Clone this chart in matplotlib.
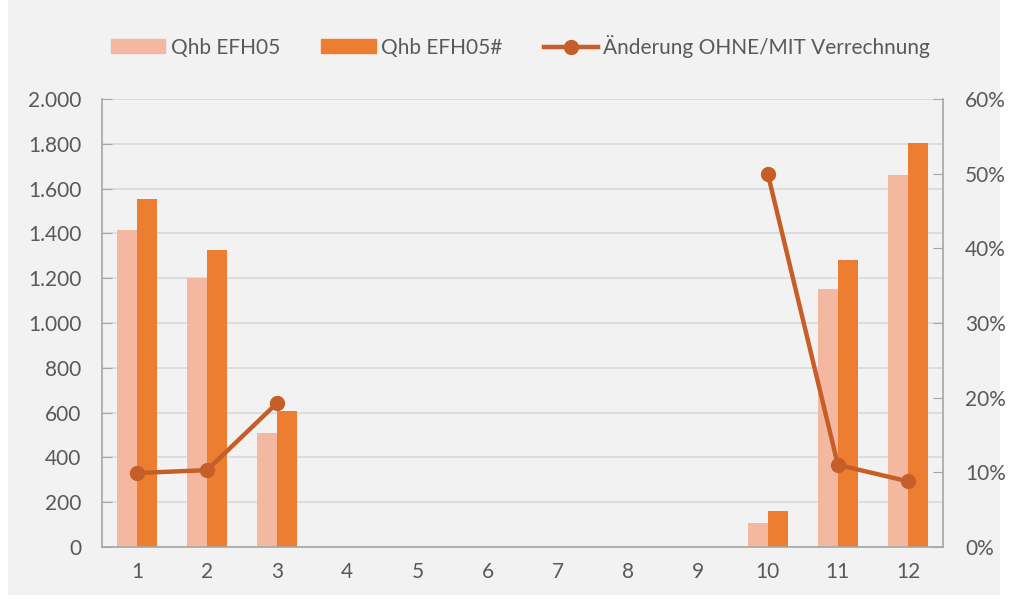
import matplotlib.pyplot as plt
import numpy as np
from matplotlib.patches import Rectangle
from matplotlib.lines import Line2D
from matplotlib.ticker import FuncFormatter, MultipleLocator

months = list(range(1, 13))
qhb = [1415, 1200, 510, 0, 0, 0, 0, 0, 0, 105, 1150, 1660]
qhb_hash = [1555, 1325, 605, 0, 0, 0, 0, 0, 0, 160, 1280, 1805]
change = [0.099, 0.103, 0.193, np.nan, np.nan, np.nan, np.nan, np.nan, np.nan,
          0.500, 0.110, 0.088]

light = '#F4B8A1'
dark = '#ED7D31'
line_c = '#C65F27'
text_c = '#595959'
grid_c = '#D9D9D9'
axis_c = '#A6A6A6'

plt.rcParams['font.family'] = ['Lato', 'DejaVu Sans']

fig = plt.figure(figsize=(10.09, 6.0), dpi=100)
fig.patches.append(Rectangle((8 / 1009, 5 / 600), 992 / 1009, 595 / 600,
                             transform=fig.transFigure, facecolor='#F2F2F2',
                             edgecolor='none', zorder=-10))

ax = fig.add_axes([102 / 1009, 53 / 600, 841 / 1009, 448 / 600])
ax.set_facecolor('none')
x = np.arange(len(months))
w = 0.286
ax.bar(x - w / 2, qhb, w, color=light, label='Qhb EFH05', zorder=2)
ax.bar(x + w / 2, qhb_hash, w, color=dark, label='Qhb EFH05#', zorder=2)

ax.set_xlim(-0.5, 11.5)
ax.set_ylim(0, 2000)
ax.yaxis.set_major_locator(MultipleLocator(200))
ax.yaxis.set_major_formatter(FuncFormatter(lambda v, p: f'{int(v):,}'.replace(',', '.')))
ax.set_xticks(x)
ax.set_xticklabels([str(m) for m in months])
ax.grid(axis='y', color=grid_c, linewidth=1.2, zorder=0)
ax.set_axisbelow(True)
for s in ['top', 'right']:
    ax.spines[s].set_visible(False)
for s in ['left', 'bottom']:
    ax.spines[s].set_color(axis_c)
    ax.spines[s].set_linewidth(1.2)
ax.tick_params(axis='y', direction='in', length=7, color=axis_c, labelsize=15,
               labelcolor=text_c, pad=15)
ax.tick_params(axis='x', length=0, labelsize=15, labelcolor=text_c, pad=11)

ax2 = ax.twinx()
ax2.plot(x, change, color=line_c, linewidth=3.2, marker='o', markersize=10,
         label='Änderung OHNE/MIT Verrechnung', zorder=5)
ax2.set_ylim(0, 0.6)
ax2.yaxis.set_major_locator(MultipleLocator(0.1))
ax2.yaxis.set_major_formatter(FuncFormatter(lambda v, p: f'{v * 100:.0f}%'))
for s in ['top', 'left', 'bottom']:
    ax2.spines[s].set_visible(False)
ax2.spines['right'].set_color(axis_c)
ax2.spines['right'].set_linewidth(1.2)
ax2.tick_params(axis='y', direction='in', length=7, color=axis_c, labelsize=15,
                labelcolor=text_c, pad=16)

handles = [Rectangle((0, 0), 1, 1, color=light),
           Rectangle((0, 0), 1, 1, color=dark),
           Line2D([], [], color=line_c, linewidth=3.2, marker='o', markersize=10)]
labels = ['Qhb EFH05', 'Qhb EFH05#', 'Änderung OHNE/MIT Verrechnung']
fig.legend(handles, labels, loc='center', bbox_to_anchor=(0.516, 0.923), ncol=3,
           frameon=False, fontsize=15, labelcolor=text_c, handlelength=2.6,
           handleheight=0.67, handletextpad=0.25, columnspacing=2.0)

fig.savefig('out.png', dpi=100)
